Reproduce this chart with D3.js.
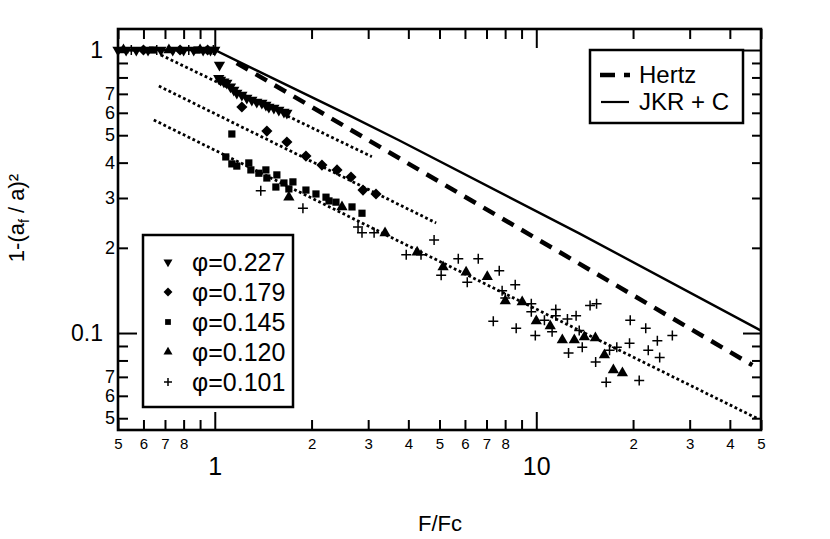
<!DOCTYPE html>
<html>
<head>
<meta charset="utf-8">
<script src="https://cdn.jsdelivr.net/npm/d3@7"></script>
<style>
  body { margin: 0; background: #fff; }
  svg { font-family: "Liberation Sans", Arial, sans-serif; }
</style>
</head>
<body>
<svg id="chart" width="830" height="539"></svg>
<script>
// data: [F/Fc, 1-(af/a)^2]
const phi227 = [
  [0.5, 1], [0.53, 1], [0.57, 1], [0.62, 1], [0.68, 1], [0.74, 1], [0.8, 1], [0.86, 1], [0.92, 1], [0.97, 1], [1.0, 1],
  [1.034, 0.885], [1.029, 0.794], [1.042, 0.783], [1.067, 0.773], [1.09, 0.765], [1.119, 0.742], [1.146, 0.722],
  [1.171, 0.705], [1.214, 0.694], [1.258, 0.677], [1.304, 0.666], [1.351, 0.655], [1.401, 0.65], [1.442, 0.639],
  [1.473, 0.629], [1.527, 0.624], [1.582, 0.614], [1.641, 0.604], [1.676, 0.599]
];
const phi179 = [
  [0.6, 1], [0.78, 1], [0.95, 1],
  [1.214, 0.629], [1.452, 0.517], [1.676, 0.473], [1.921, 0.422], [2.154, 0.392], [2.4, 0.377],
  [2.653, 0.356], [2.891, 0.32], [3.173, 0.31]
];
const phi145 = [
  [0.64, 1], [0.88, 1],
  [1.13, 0.505], [1.082, 0.419], [1.13, 0.396], [1.171, 0.389], [1.276, 0.399], [1.295, 0.377], [1.371, 0.367],
  [1.442, 0.377], [1.452, 0.353], [1.56, 0.362], [1.549, 0.328], [1.641, 0.339], [1.75, 0.342], [1.7, 0.323],
  [1.921, 0.32], [2.064, 0.31], [2.218, 0.302], [2.266, 0.293], [2.382, 0.29], [2.672, 0.279], [2.87, 0.265]
];
const phi120 = [
  [0.52, 1], [0.72, 1], [0.9, 1],
  [1.7, 0.302], [2.487, 0.279], [3.385, 0.2256], [4.26, 0.193], [5.13, 0.171], [6.05, 0.164], [7.04, 0.158],
  [8.01, 0.1298], [9.04, 0.1287], [10.0, 0.1103], [11.05, 0.1059], [12.05, 0.0945], [13.13, 0.0945],
  [14.11, 0.0968], [15.27, 0.096], [16.29, 0.0836], [17.37, 0.074], [18.53, 0.0722]
];
const phi101 = [
  [0.55, 1], [0.66, 1], [0.83, 1], [0.99, 1],
  [1.39, 0.318], [1.88, 0.276], [2.79, 0.237], [2.87, 0.226], [3.13, 0.226], [4.81, 0.213], [3.94, 0.189],
  [4.38, 0.189], [5.06, 0.16], [5.72, 0.183], [6.6, 0.183], [6.1, 0.151], [7.67, 0.166], [8.6, 0.148],
  [7.83, 0.141], [8.01, 0.133], [9.65, 0.127], [9.65, 0.119], [7.35, 0.11], [8.66, 0.104], [9.93, 0.098],
  [10.6, 0.111], [11.2, 0.101], [11.5, 0.121], [11.5, 0.115], [12.5, 0.112], [13.3, 0.115], [14.7, 0.125],
  [15.4, 0.127], [13.6, 0.102], [13.9, 0.089], [12.6, 0.085], [15.3, 0.079], [16.9, 0.087], [17.8, 0.089],
  [16.5, 0.067], [19.6, 0.111], [19.5, 0.092], [20.9, 0.068], [21.9, 0.104], [22.3, 0.087], [24.2, 0.082],
  [23.8, 0.094], [26.5, 0.098]
];

// model curves and fits
const hertz = [[1.17, 0.9], [47, 0.077]];
const jkr = [[0.5, 1], [1, 1], [2.6, 0.59], [3.74, 0.48], [13.6, 0.225], [50, 0.102]];
const fit227 = [[0.68, 0.96], [3.08, 0.42]];
const fit179 = [[0.67, 0.746], [4.88, 0.245]];
const fitLow = [[0.646, 0.566], [48.5, 0.05]];

const seriesNames = ['φ=0.227', 'φ=0.179', 'φ=0.145', 'φ=0.120', 'φ=0.101'];
const seriesMarkers = ['tdown', 'diamond', 'square', 'tup', 'plus'];
const seriesData = [phi227, phi179, phi145, phi120, phi101];

const xMinor = [0.5, 0.6, 0.7, 0.8, 0.9, 2, 3, 4, 5, 6, 7, 8, 9, 20, 30, 40, 50];
const xMinorLabeled = [0.5, 0.6, 0.7, 0.8, 2, 3, 4, 5, 6, 7, 8, 20, 30, 40, 50];
const xMajor = [1, 10];
const yMinor = [0.05, 0.06, 0.07, 0.08, 0.09, 0.2, 0.3, 0.4, 0.5, 0.6, 0.7, 0.8, 0.9];
const yMinorLabeled = [0.05, 0.06, 0.07, 0.2, 0.3, 0.4, 0.5, 0.6, 0.7];
const yMajor = [0.1, 1];

const margin = { top: 29, right: 69, bottom: 109, left: 118 };
const width = 830 - margin.left - margin.right;
const height = 539 - margin.top - margin.bottom;

const svg = d3.select('#chart');
const g = svg.append('g').attr('transform', `translate(${margin.left},${margin.top})`);

const x = d3.scaleLog().domain([0.5, 50]).range([0, width]);
const y = d3.scaleLog().domain([0.04543, 1.1865]).range([height, 0]);

const digit = (d) => String(Math.round(d / Math.pow(10, Math.floor(Math.log10(d) + 1e-9))));

function styleAxis(sel, fontSize) {
  sel.select('.domain').remove();
  sel.selectAll('line').attr('stroke', '#000').attr('stroke-width', 2);
  sel.selectAll('text').attr('fill', '#000').style('font-size', fontSize + 'px');
}

// bottom
g.append('g').attr('transform', `translate(0,${height})`)
  .call(d3.axisBottom(x).tickValues(xMinor).tickSize(-10).tickPadding(8)
    .tickFormat((d) => xMinorLabeled.includes(d) ? digit(d) : ''))
  .call(styleAxis, 15);
g.append('g').attr('transform', `translate(0,${height})`)
  .call(d3.axisBottom(x).tickValues(xMajor).tickSize(-18).tickPadding(27)
    .tickFormat((d) => String(d)))
  .call(styleAxis, 25);
// top
g.append('g')
  .call(d3.axisTop(x).tickValues(xMinor).tickSize(-10).tickFormat(''))
  .call(styleAxis, 10);
g.append('g')
  .call(d3.axisTop(x).tickValues(xMajor).tickSize(-19).tickFormat(''))
  .call(styleAxis, 10);
// left
g.append('g')
  .call(d3.axisLeft(y).tickValues(yMinor).tickSize(-10).tickPadding(3)
    .tickFormat((d) => yMinorLabeled.includes(d) ? digit(d) : ''))
  .call(styleAxis, 18);
g.append('g')
  .call(d3.axisLeft(y).tickValues(yMajor).tickSize(-19).tickPadding(15)
    .tickFormat((d) => String(d)))
  .call(styleAxis, 23);
// right
g.append('g').attr('transform', `translate(${width},0)`)
  .call(d3.axisRight(y).tickValues(yMinor).tickSize(-9).tickFormat(''))
  .call(styleAxis, 10);
g.append('g').attr('transform', `translate(${width},0)`)
  .call(d3.axisRight(y).tickValues(yMajor).tickSize(-18).tickFormat(''))
  .call(styleAxis, 10);

// frame
g.append('rect')
  .attr('width', width).attr('height', height)
  .attr('fill', 'none').attr('stroke', '#000').attr('stroke-width', 2.6);

const line = d3.line().x((d) => x(d[0])).y((d) => y(d[1]));

g.append('path').datum(jkr).attr('d', line)
  .attr('fill', 'none').attr('stroke', '#000').attr('stroke-width', 2.4);
g.append('path').datum(hertz).attr('d', line)
  .attr('fill', 'none').attr('stroke', '#000').attr('stroke-width', 4.5)
  .attr('stroke-dasharray', '13,9');
[fit227, fit179, fitLow].forEach((f) => {
  g.append('path').datum(f).attr('d', line)
    .attr('fill', 'none').attr('stroke', '#000').attr('stroke-width', 2.8)
    .attr('stroke-dasharray', '2.8,2.6');
});

function marker(sel, type, scale) {
  const s = scale || 1;
  if (type === 'plus') {
    sel.append('path')
      .attr('d', `M${-5 * s},0H${5 * s}M0,${-5 * s}V${5 * s}`)
      .attr('stroke', '#000').attr('stroke-width', 1.5).attr('fill', 'none');
  } else if (type === 'tdown' || type === 'tup') {
    sel.append('path')
      .attr('d', d3.symbol(d3.symbolTriangle, 55 * s * s)())
      .attr('transform', type === 'tdown' ? 'rotate(180)' : null)
      .attr('fill', '#000');
  } else if (type === 'diamond') {
    sel.append('path')
      .attr('d', d3.symbol(d3.symbolSquare, 62 * s * s)())
      .attr('transform', 'rotate(45)')
      .attr('fill', '#000');
  } else {
    sel.append('path')
      .attr('d', d3.symbol(d3.symbolSquare, 52 * s * s)())
      .attr('fill', '#000');
  }
}

seriesData.forEach((data, i) => {
  g.append('g').selectAll('g')
    .data(data)
    .join('g')
    .attr('transform', (d) => `translate(${x(d[0])},${y(d[1])})`)
    .each(function () { marker(d3.select(this), seriesMarkers[i]); });
});

// line legend
const leg1 = svg.append('g').attr('transform', 'translate(590,50)');
leg1.append('rect').attr('width', 153).attr('height', 73)
  .attr('fill', '#fff').attr('stroke', '#000').attr('stroke-width', 2.5);
leg1.append('line').attr('x1', 10).attr('x2', 40).attr('y1', 25).attr('y2', 25)
  .attr('stroke', '#000').attr('stroke-width', 4.5).attr('stroke-dasharray', '15,9');
leg1.append('line').attr('x1', 11).attr('x2', 39).attr('y1', 52).attr('y2', 52)
  .attr('stroke', '#000').attr('stroke-width', 2.2);
leg1.append('text').attr('x', 49).attr('y', 33).style('font-size', '24px').text('Hertz');
leg1.append('text').attr('x', 49).attr('y', 60).style('font-size', '24px').text('JKR + C');

// marker legend
const leg2 = svg.append('g').attr('transform', 'translate(143,235)');
leg2.append('rect').attr('width', 150).attr('height', 172)
  .attr('fill', '#fff').attr('stroke', '#000').attr('stroke-width', 2.5);
seriesNames.forEach((name, i) => {
  const row = leg2.append('g').attr('transform', `translate(25,${27 + i * 30})`);
  marker(row, seriesMarkers[i], 0.8);
  row.append('text').attr('x', 24).attr('y', 9).style('font-size', '25px').text(name);
});

// axis titles
svg.append('text').attr('x', 440).attr('y', 531).attr('text-anchor', 'middle')
  .style('font-size', '22px').text('F/Fc');
const yt = svg.append('text')
  .attr('transform', 'translate(24,218) rotate(-90)')
  .attr('text-anchor', 'middle').style('font-size', '22px');
yt.append('tspan').text('1-(a');
yt.append('tspan').attr('dy', 5).style('font-size', '14px').text('f');
yt.append('tspan').attr('dy', -5).text(' / a)²');
</script>
</body>
</html>
